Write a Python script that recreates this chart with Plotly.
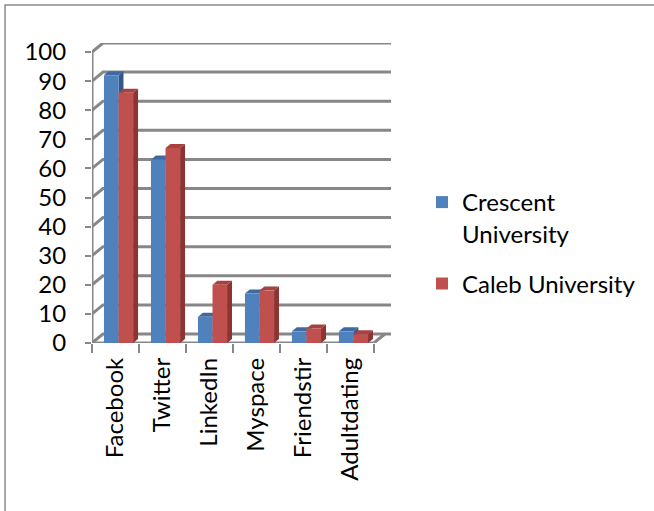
import plotly.graph_objects as go

categories = ["Facebook", "Twitter", "LinkedIn", "Myspace", "Friendstir", "Adultdating"]
crescent = [92, 63, 9, 17, 4, 4]
caleb = [86, 67, 20, 18, 5, 3]
y_ticks = list(range(0, 101, 10))
series_names = ["Crescent<br>University", "Caleb University"]

W, H = 654, 511
DX = 0.234   # back-wall depth (category units)
DY = 3.1     # back-wall depth (value units)
XEXT = 0.13  # gridline extension past back wall
PL, PT, PB = 92, 43, 343
PR = PL + (6 + DX + XEXT) * 47  # plot area right edge (47 px per category)
BW = 0.31    # bar width
BDX, BDY = 0.105, 1.4  # bar depth
GRID = "#878787"

front = {"Crescent": ("#4F81BD", "#3E6AA1", "#33588A"), "Caleb": ("#C0504D", "#A8413F", "#8C3432")}
offsets = [-0.245, 0.065]

fig = go.Figure()
series = [(series_names[0], crescent, front["Crescent"], offsets[0]),
          (series_names[1], caleb, front["Caleb"], offsets[1])]
for k, (name, vals, cols, off) in enumerate(series):
    fig.add_trace(go.Bar(x=categories, y=vals, name=name, width=BW, offset=off,
                         legendgroup=f"g{k}",
                         marker=dict(color=cols[0], line=dict(width=0))))

shapes = []
# back wall gridlines with diagonal from front axis
for v in y_ticks:
    shapes.append(dict(type="path", layer="below", xref="x", yref="y",
                       path=f"M-0.5,{v} L{-0.5+DX},{v+DY} L{5.5+DX+XEXT},{v+DY}",
                       line=dict(color=GRID, width=3)))
# floor front edge and right edge
shapes.append(dict(type="path", layer="below", xref="x", yref="y",
                   path=f"M-0.5,0 L5.5,0 L{5.5+DX},{DY}",
                   line=dict(color=GRID, width=3)))
# front vertical axis
shapes.append(dict(type="line", layer="below", xref="x", yref="y",
                   x0=-0.5, x1=-0.5, y0=0, y1=100, line=dict(color=GRID, width=3)))

# bar side and top faces
for name, vals, cols, off in series:
    for i, v in enumerate(vals):
        xl = i + off
        xr = xl + BW
        shapes.append(dict(type="path", layer="below", xref="x", yref="y",
                           path=f"M{xr},0 L{xr},{v} L{xr+BDX},{v+BDY} L{xr+BDX},{BDY} Z",
                           fillcolor=cols[2], line=dict(width=0)))
        shapes.append(dict(type="path", layer="below", xref="x", yref="y",
                           path=f"M{xl},{v} L{xr},{v} L{xr+BDX},{v+BDY} L{xl+BDX},{v+BDY} Z",
                           fillcolor=cols[1], line=dict(width=0)))

# outer chart border
px2x = lambda p: (p - PL) / (PR - PL)
px2y = lambda p: (PB - p) / (PB - PT)
shapes.append(dict(type="path", xref="paper", yref="paper", layer="below",
                   path=f"M{px2x(5)},{px2y(700)} L{px2x(5)},{px2y(5)} L{px2x(900)},{px2y(5)}",
                   line=dict(color="#8c8c8c", width=1.5)))

fig.update_layout(
    width=W, height=H,
    margin=dict(l=PL, r=W - PR, t=PT, b=H - PB, pad=0, autoexpand=False),
    paper_bgcolor="white", plot_bgcolor="white",
    font=dict(family="Lato", size=24, color="black"),
    barmode="overlay",
    shapes=shapes,
    showlegend=True,
    legend=dict(xref="container", yref="container", x=422 / W, y=1 - 180 / H,
                xanchor="left", yanchor="top", valign="top", traceorder="grouped",
                font=dict(family="Lato", size=24, color="black"),
                bgcolor="rgba(0,0,0,0)", tracegroupgap=16),
    xaxis=dict(range=[-0.5, 5.5 + DX + XEXT], showgrid=False, showline=False, zeroline=False,
               automargin=False,
               ticks="outside", tickson="boundaries", ticklen=9, tickwidth=2, tickcolor=GRID,
               ticklabelstandoff=9,
               tickangle=-90, tickfont=dict(family="Lato", size=24)),
    yaxis=dict(range=[0, 100 + DY], tickvals=y_ticks, showgrid=False, showline=False,
               automargin=False,
               zeroline=False, ticks="outside", ticklen=6, tickwidth=2, tickcolor=GRID,
               ticklabelstandoff=14, tickfont=dict(family="Lato", size=24)),
)

fig.write_html("out.html", config={"displayModeBar": False},
               post_script="document.body.style.margin='0';")
